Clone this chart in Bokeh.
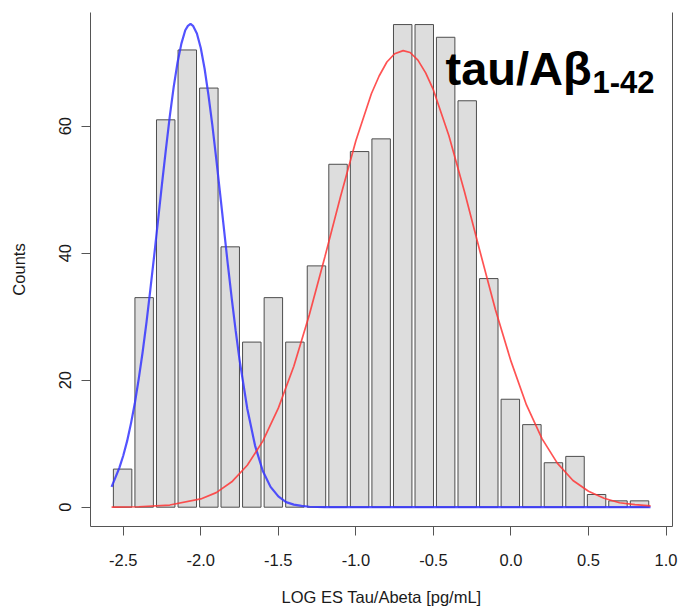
from bokeh.plotting import figure
from bokeh.models import Range1d, LinearAxis, FixedTicker, Label, NumeralTickFormatter
from bokeh.embed import file_html
from bokeh.resources import INLINE

# ---- data ----
bin_centers = [-2.504, -2.365, -2.226, -2.087, -1.948, -1.810, -1.671, -1.532, -1.393,
               -1.254, -1.115, -0.976, -0.837, -0.698, -0.559, -0.421, -0.282, -0.143,
               -0.004, 0.135, 0.274, 0.413, 0.552, 0.690, 0.829]
counts = [6, 33, 61, 72, 66, 41, 26, 33, 26, 38, 54, 56, 58, 76, 76, 74, 64, 36,
          17, 13, 7, 8, 2, 1, 1]

blue_x = [-2.575, -2.55, -2.525, -2.5, -2.475, -2.45, -2.425, -2.4, -2.375, -2.35,
          -2.325, -2.3, -2.275, -2.25, -2.225, -2.2, -2.175, -2.15, -2.125, -2.1,
          -2.083, -2.066, -2.05, -2.025, -2.0, -1.975, -1.95, -1.925, -1.9, -1.875,
          -1.85, -1.825, -1.8, -1.775, -1.75, -1.7, -1.65, -1.6, -1.55, -1.5,
          -1.45, -1.4, -1.35, -1.3, -1.2, 0.9]
blue_y = [3.2, 4.7, 6.2, 8.1, 10.4, 13.2, 16.4, 20.2, 24.4, 29.1,
          34.3, 39.7, 45.3, 50.9, 56.3, 61.5, 66.1, 70.0, 73.0, 75.1,
          75.8, 76.1, 75.8, 74.6, 72.3, 69.0, 64.8, 60.1, 54.8, 49.3,
          43.7, 38.1, 32.8, 27.8, 23.2, 15.5, 9.7, 5.7, 3.2, 1.7,
          0.8, 0.4, 0.2, 0.07, 0.0, 0.0]

red_x = [-2.575, -2.4, -2.2, -2.0, -1.9, -1.8, -1.7, -1.6, -1.5, -1.4, -1.3, -1.2,
         -1.1, -1.0, -0.9, -0.85, -0.8, -0.75, -0.695, -0.65, -0.6, -0.55, -0.5,
         -0.4, -0.3, -0.2, -0.1, 0.0, 0.1, 0.2, 0.3, 0.4, 0.5, 0.6, 0.7, 0.8, 0.9]
red_y = [0.02, 0.07, 0.34, 1.3, 2.3, 4.0, 6.6, 10.4, 15.6, 22.2, 30.3, 39.4,
         48.8, 57.7, 65.1, 67.9, 70.1, 71.4, 71.9, 71.6, 70.4, 68.4, 65.7,
         58.5, 49.7, 40.3, 31.1, 23.0, 16.1, 10.8, 6.9, 4.2, 2.5, 1.4, 0.7, 0.4, 0.2]

x_ticks = [-2.5, -2.0, -1.5, -1.0, -0.5, 0.0, 0.5, 1.0]
y_ticks = [0, 20, 40, 60]

x_label = "LOG ES Tau/Abeta [pg/mL]"
y_label = "Counts"
title_main = "tau/A\u03b2"
title_sub = "1-42"

FONT = "Liberation Sans"
AX_COL = "#555555"
TXT_COL = "#1a1a1a"

p = figure(width=679, height=613, output_backend="svg", toolbar_location=None,
           x_range=Range1d(-2.711, 1.0416), y_range=Range1d(-3.04, 77.9),
           min_border_left=90, min_border_right=7, min_border_top=12,
           min_border_bottom=87)
p.outline_line_color = None
p.grid.visible = False
p.background_fill_color = "white"
p.border_fill_color = "white"

p.vbar(x=bin_centers, top=counts, bottom=0, width=0.119,
       fill_color="#dddddd", line_color="#4d4d4d", line_width=1)

p.line(blue_x, blue_y, line_color="#3535ff", line_width=2.2, line_alpha=0.85)
p.line(red_x, red_y, line_color="#ff3535", line_width=1.7, line_alpha=0.85)

# axes
xa = p.xaxis[0]
xa.ticker = FixedTicker(ticks=x_ticks)
xa.formatter = NumeralTickFormatter(format="0.0")
xa.axis_label = x_label
ya = p.yaxis[0]
ya.ticker = FixedTicker(ticks=y_ticks)
ya.axis_label = y_label
ya.major_label_orientation = "vertical"

for ax in (xa, ya):
    ax.axis_line_color = AX_COL
    ax.axis_line_width = 1
    ax.major_tick_line_color = AX_COL
    ax.major_tick_out = 9
    ax.major_tick_in = 0
    ax.minor_tick_line_color = None
    ax.major_label_text_font = FONT
    ax.major_label_text_font_size = "16.5px"
    ax.major_label_text_color = TXT_COL
    ax.axis_label_text_font = FONT
    ax.axis_label_text_font_size = "16.5px"
    ax.axis_label_text_font_style = "normal"
    ax.axis_label_text_color = TXT_COL

xa.major_label_standoff = 18
xa.axis_label_standoff = 19
ya.major_label_standoff = 10
ya.axis_label_standoff = 29

right = LinearAxis(ticker=FixedTicker(ticks=[]), axis_line_color=AX_COL,
                   major_tick_line_color=None, minor_tick_line_color=None)
p.add_layout(right, "right")

p.add_layout(Label(x=-0.422, y=69.04, text=title_main, text_font=FONT,
                   text_font_style="bold", text_font_size="47px",
                   text_color="black", text_baseline="alphabetic"))
p.add_layout(Label(x=0.526, y=66.93, text=title_sub, text_font=FONT,
                   text_font_style="bold", text_font_size="31px",
                   text_color="black", text_baseline="alphabetic"))

open("out.html", "w").write(file_html(p, INLINE))
